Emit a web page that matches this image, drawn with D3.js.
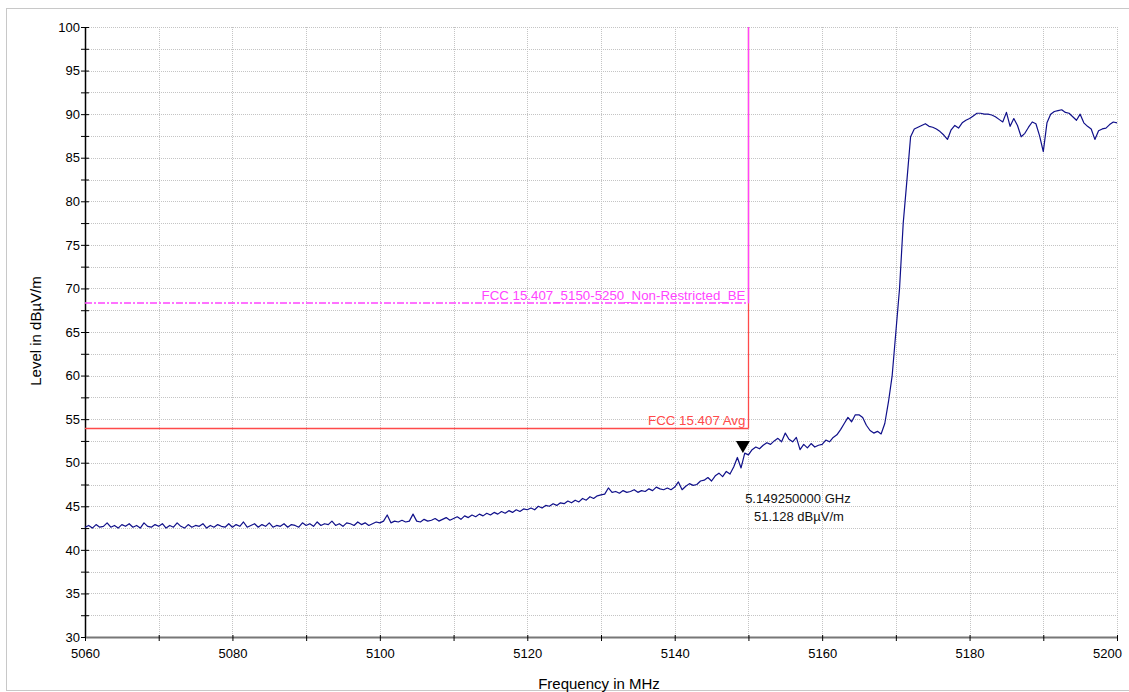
<!DOCTYPE html>
<html>
<head>
<meta charset="utf-8">
<script src="https://cdn.jsdelivr.net/npm/d3@7"></script>
<style>
  body { margin: 0; background: #fff; }
  svg { display: block; font-family: "Liberation Sans", Arial, sans-serif; }
</style>
</head>
<body>
<svg id="chart" width="1129" height="692"></svg>
<script>
// trace: one level every 0.5 MHz from 5060 to 5200
const traceStart = 5060;
const traceStep = 0.5;
const traceLevels = [
  42.6,42.8,42.5,42.9,42.6,42.7,43.1,42.6,42.8,42.5,42.9,42.7,43.0,42.6,42.8,42.5,43.1,42.7,42.6,42.9,
  42.7,43.0,42.5,42.8,42.6,43.1,42.7,42.5,42.9,42.6,42.8,42.7,43.0,42.5,42.8,42.6,42.9,42.7,42.6,43.0,
  42.6,42.9,42.7,43.2,42.6,42.8,43.0,42.6,42.9,42.7,43.1,42.6,42.8,42.7,43.0,42.6,42.9,42.8,42.6,43.1,
  42.8,43.0,42.7,43.2,42.8,43.0,42.9,43.3,42.8,43.0,42.7,43.1,43.0,42.8,43.2,42.9,43.1,42.8,43.0,43.2,
  43.1,43.3,44.0,43.1,43.3,43.2,43.4,43.2,43.3,44.1,43.3,43.2,43.5,43.3,43.4,43.6,43.3,43.5,43.7,43.4,
  43.6,43.8,43.5,43.9,43.7,44.0,43.8,44.1,43.9,44.2,44.0,44.3,44.1,44.4,44.2,44.5,44.3,44.6,44.4,44.7,
  44.6,44.8,44.6,45.0,44.8,45.1,45.0,45.3,45.1,45.4,45.3,45.6,45.4,45.7,45.5,45.9,45.7,46.1,45.9,46.2,
  46.3,46.4,47.1,46.6,46.7,46.5,46.8,46.6,46.7,46.9,46.6,46.8,46.7,47.0,46.8,47.2,47.0,46.9,47.1,46.9,
  47.2,47.8,46.9,47.3,47.6,47.4,47.5,47.9,48.0,48.3,47.9,48.5,48.8,48.4,49.0,48.7,49.5,50.6,49.4,51.1,
  50.9,51.5,51.8,51.6,52.0,52.3,52.1,52.5,52.8,52.4,53.4,52.7,52.4,52.9,51.5,52.1,51.7,52.2,51.8,52.0,
  52.1,52.6,52.4,52.9,53.2,53.8,54.5,55.2,54.7,55.5,55.5,55.2,54.3,53.7,53.4,53.6,53.3,54.5,57.0,60.0,
  65.0,70.0,77.5,82.4,87.4,88.3,88.5,88.7,88.9,88.6,88.5,88.3,88.0,87.6,87.1,88.2,88.7,88.4,89.0,89.3,
  89.5,89.8,90.1,90.1,90.0,90.0,89.9,89.7,89.4,89.1,90.2,88.6,89.5,88.7,87.4,87.8,88.5,89.1,88.9,87.5,
  85.7,89.0,90.0,90.3,90.4,90.5,90.2,90.1,89.7,89.3,90.0,89.0,88.6,88.3,87.1,88.1,88.3,88.4,88.8,89.1,
  89.0
];

const xTicks = [5060, 5080, 5100, 5120, 5140, 5160, 5180, 5200];
const xGrid = [5060, 5070, 5080, 5090, 5100, 5110, 5120, 5130, 5140, 5150, 5160, 5170, 5180, 5190, 5200];
const yTicks = [30, 35, 40, 45, 50, 55, 60, 65, 70, 75, 80, 85, 90, 95, 100];
const yGrid = d3.range(30, 100.1, 2.5);

// limit lines
const limitAvg = { name: "FCC 15.407 Avg", level: 54, from: 5060, to: 5150 };
const limitBE = { name: "FCC 15.407_5150-5250_Non-Restricted_BE", level: 68.33, from: 5060, to: 5150 };

const marker = { freq: 5149.25, level: 51.128, line1: "5.149250000 GHz", line2: "51.128 dBµV/m" };

const svg = d3.select("#chart");
const plot = { left: 85, right: 1117, top: 27, bottom: 637 };

const x = d3.scaleLinear().domain([5060, 5200]).range([plot.left, plot.right]);
const y = d3.scaleLinear().domain([30, 100]).range([plot.bottom, plot.top]);
const px = v => Math.round(v) + 0.5;

// outer frame
svg.append("rect")
  .attr("x", 6.5).attr("y", 8.5)
  .attr("width", 1140).attr("height", 682)
  .attr("fill", "none")
  .attr("stroke", "#c8c8c8");

// grid
svg.append("g").selectAll("line")
  .data(yGrid)
  .enter().append("line")
  .attr("x1", plot.left).attr("x2", plot.right)
  .attr("y1", d => px(y(d))).attr("y2", d => px(y(d)))
  .attr("stroke", "#c4c4c4")
  .attr("stroke-dasharray", "1,1");

svg.append("g").selectAll("line")
  .data(xGrid)
  .enter().append("line")
  .attr("x1", d => px(x(d))).attr("x2", d => px(x(d)))
  .attr("y1", plot.top).attr("y2", plot.bottom)
  .attr("stroke", "#c4c4c4")
  .attr("stroke-dasharray", "1,1");

// y axis
const yAxis = d3.axisLeft(y)
  .tickValues(yGrid)
  .tickSizeInner(4)
  .tickSizeOuter(0)
  .tickFormat(d => yTicks.includes(d) ? d : "");

const gy = svg.append("g")
  .attr("transform", `translate(${plot.left},0)`)
  .call(yAxis);
gy.select(".domain").attr("stroke", "#000").attr("stroke-width", 1.5);
gy.selectAll(".tick line").attr("x2", 4).attr("x1", -4).attr("stroke", "#000");
gy.selectAll(".tick text")
  .attr("x", -5)
  .attr("font-size", 13)
  .attr("fill", "#000");

// x axis
const xAxis = d3.axisBottom(x)
  .tickValues(xGrid)
  .tickSizeInner(4)
  .tickSizeOuter(0)
  .tickFormat(d => xTicks.includes(d) ? d : "");

const gx = svg.append("g")
  .attr("transform", `translate(0,${plot.bottom})`)
  .call(xAxis);
gx.select(".domain").attr("stroke", "#777").attr("stroke-width", 2);
gx.selectAll(".tick line").attr("y1", -2).attr("y2", 4).attr("stroke", "#000");
gx.selectAll(".tick text")
  .attr("y", 12)
  .attr("font-size", 13)
  .attr("fill", "#000");
gx.selectAll(".tick text").filter(d => d === 5200).attr("dx", -10);

// axis titles
svg.append("text")
  .attr("x", 599).attr("y", 689)
  .attr("text-anchor", "middle")
  .attr("font-size", 15)
  .text("Frequency in MHz");

svg.append("text")
  .attr("transform", "translate(41,331) rotate(-90)")
  .attr("text-anchor", "middle")
  .attr("font-size", 15)
  .text("Level in dBµV/m");

// limit lines
svg.append("line")
  .attr("x1", x(limitAvg.from)).attr("x2", px(x(limitAvg.to)))
  .attr("y1", px(y(limitAvg.level))).attr("y2", px(y(limitAvg.level)))
  .attr("stroke", "#ff4a4a").attr("stroke-width", 1.3);
svg.append("line")
  .attr("x1", px(x(limitAvg.to))).attr("x2", px(x(limitAvg.to)))
  .attr("y1", y(100)).attr("y2", px(y(limitAvg.level)))
  .attr("stroke", "#ff4a4a").attr("stroke-width", 1.3);
svg.append("text")
  .attr("x", x(limitAvg.to) - 3).attr("y", y(limitAvg.level) - 3)
  .attr("text-anchor", "end")
  .attr("font-size", 13.3)
  .attr("fill", "#ff4a4a")
  .text(limitAvg.name);

svg.append("line")
  .attr("x1", x(limitBE.from)).attr("x2", px(x(limitBE.to)))
  .attr("y1", y(limitBE.level)).attr("y2", y(limitBE.level))
  .attr("stroke", "#ff44ff").attr("stroke-width", 1.4)
  .attr("stroke-dasharray", "7,2,2,2");
svg.append("line")
  .attr("x1", px(x(limitBE.to))).attr("x2", px(x(limitBE.to)))
  .attr("y1", y(100)).attr("y2", y(limitBE.level))
  .attr("stroke", "#ff44ff").attr("stroke-width", 1.3);
svg.append("text")
  .attr("x", x(limitBE.to) - 3).attr("y", y(limitBE.level) - 3)
  .attr("text-anchor", "end")
  .attr("font-size", 13.3)
  .attr("fill", "#ff44ff")
  .text(limitBE.name);

// trace
const trace = traceLevels.map((v, i) => ({ f: traceStart + i * traceStep, v: v }));
const line = d3.line()
  .x(d => x(d.f))
  .y(d => y(d.v));

svg.append("path")
  .datum(trace)
  .attr("d", line)
  .attr("fill", "none")
  .attr("stroke", "#10108a")
  .attr("stroke-width", 1.2)
  .attr("stroke-linejoin", "round");

// marker
const mx = x(marker.freq), my = y(marker.level);
svg.append("path")
  .attr("d", `M${mx - 7},${my - 12} L${mx + 7},${my - 12} L${mx},${my} Z`)
  .attr("fill", "#000");
svg.append("text")
  .attr("x", mx + 55).attr("y", my + 50)
  .attr("text-anchor", "middle")
  .attr("font-size", 13)
  .attr("fill", "#111")
  .text(marker.line1);
svg.append("text")
  .attr("x", mx + 56).attr("y", my + 68)
  .attr("text-anchor", "middle")
  .attr("font-size", 13)
  .attr("fill", "#111")
  .text(marker.line2);
</script>
</body>
</html>
